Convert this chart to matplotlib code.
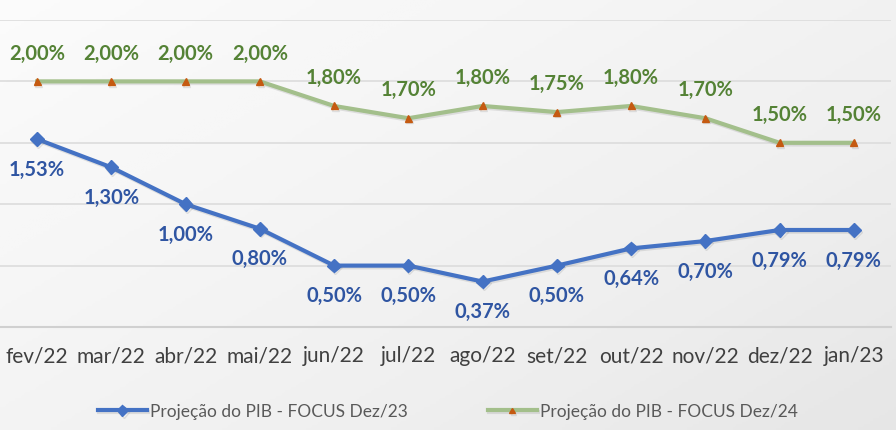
import numpy as np
import matplotlib
matplotlib.use('Agg')
import matplotlib.pyplot as plt
import matplotlib.patheffects as pe

months = ['fev/22', 'mar/22', 'abr/22', 'mai/22', 'jun/22', 'jul/22',
          'ago/22', 'set/22', 'out/22', 'nov/22', 'dez/22', 'jan/23']
pib_dez23 = [1.53, 1.30, 1.00, 0.80, 0.50, 0.50, 0.37, 0.50, 0.64, 0.70, 0.79, 0.79]
pib_dez24 = [2.00, 2.00, 2.00, 2.00, 1.80, 1.70, 1.80, 1.75, 1.80, 1.70, 1.50, 1.50]
names = ['Projeção do PIB - FOCUS Dez/23', 'Projeção do PIB - FOCUS Dez/24']

BLUE = '#4472C4'
BLUE_TXT = '#2F55A2'
GREEN = '#A3BF8B'
GREEN_TXT = '#548235'
ORANGE = '#C55A11'

plt.rcParams['font.family'] = ['Lato', 'DejaVu Sans']

fig = plt.figure(figsize=(8.96, 4.30), dpi=100)

# soft diagonal gradient background
bg = fig.add_axes([0, 0, 1, 1], zorder=-10)
gx, gy = np.meshgrid(np.linspace(0, 1, 300), np.linspace(0, 1, 150))
grad = 0.55 * gx + 0.45 * gy
bg.imshow(grad, cmap='Greys', vmin=-0.2, vmax=6.5, aspect='auto', extent=[0, 1, 0, 1])
bg.axis('off')

ax = fig.add_axes([0.0, 0.2395, 891 / 896, 0.714])
ax.patch.set_alpha(0)
x = np.arange(len(months))

shadow = [pe.SimpleLineShadow(offset=(0.8, -1.2), shadow_color='gray', alpha=0.2), pe.Normal()]
ax.plot(x, pib_dez23, color=BLUE, lw=3, marker='D', ms=7, mfc=BLUE, mec=BLUE,
        label=names[0], path_effects=shadow, zorder=3)
ax.plot(x, pib_dez24, color=GREEN, lw=3, marker='^', ms=5, mfc=ORANGE, mec=ORANGE,
        label=names[1], path_effects=shadow, zorder=3)

for xi, v in zip(x, pib_dez23):
    ax.annotate(f'{v:.2f}%'.replace('.', ','), (xi, v), xytext=(0, -22),
                textcoords='offset points', ha='center', va='center',
                fontsize=14.5, fontweight='bold', color=BLUE_TXT)
for xi, v in zip(x, pib_dez24):
    ax.annotate(f'{v:.2f}%'.replace('.', ','), (xi, v), xytext=(0, 20),
                textcoords='offset points', ha='center', va='center',
                fontsize=14.5, fontweight='bold', color=GREEN_TXT)

ax.set_xlim(-0.5, len(months) - 0.5)
ax.set_ylim(0, 2.5)
ax.set_yticks([0, 0.5, 1.0, 1.5, 2.0, 2.5])
ax.set_yticklabels([])
ax.tick_params(axis='y', length=0)
ax.grid(axis='y', color='#DCDCDC', lw=1.2)
ax.set_axisbelow(True)
ax.set_xticks(x)
ax.set_xticklabels(months, fontsize=15, color='#404040')
ax.tick_params(axis='x', length=0, pad=14)
for s in ['top', 'right', 'left']:
    ax.spines[s].set_visible(False)
ax.spines['bottom'].set_color('#D0D0D0')
ax.spines['bottom'].set_linewidth(1.5)

leg = fig.legend(loc='lower center', bbox_to_anchor=(0.5, -0.012), ncol=2, frameon=False,
                 fontsize=12.5, handlelength=2.8, columnspacing=4.6, handletextpad=0.2,
                 markerscale=0.8)
for t in leg.get_texts():
    t.set_color('#595959')

fig.savefig('out.png', dpi=100)
